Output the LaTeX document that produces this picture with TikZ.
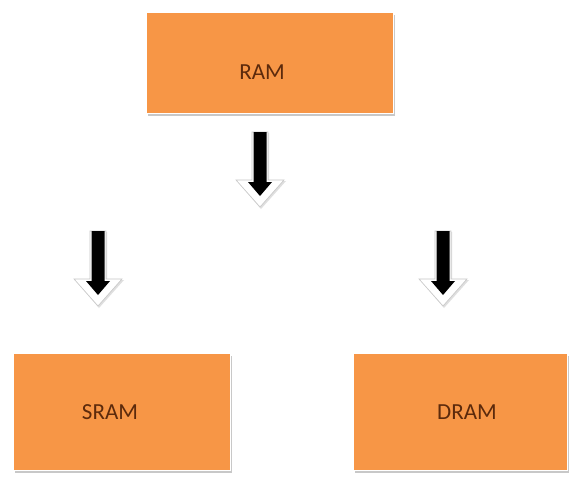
\documentclass[tikz,border=0pt]{standalone}
\usepackage{fontspec}
\setmainfont{Carlito}
\usetikzlibrary{shadows}
\definecolor{boxorange}{HTML}{F79646}
\definecolor{txtbrown}{HTML}{5C2A0C}
\tikzset{
  memblock/.style={fill=boxorange, draw=white, line width=1.2pt, inner sep=0pt,
    anchor=north west, drop shadow={shadow xshift=1.5pt, shadow yshift=-2pt, fill=gray!60, opacity=0.7}},
  lbl/.style={text=txtbrown, font=\fontsize{23}{27}\selectfont},
  blkarrow/.pic={
    \fill[gray!25] (-7,1) -- (9,1) -- (9,49) -- (26,49) -- (1,77) -- (-23,49) -- (-7,49) -- cycle;
    \filldraw[fill=white, draw=gray!45, line width=0.6pt] (-8,0) -- (8,0) -- (8,48) -- (24,48) -- (0,75) -- (-24,48) -- (-8,48) -- cycle;
    \fill[black] (-6.5,0) -- (6.5,0) -- (6.5,50) -- (12,50) -- (0,64) -- (-12,50) -- (-6.5,50) -- cycle;
  }
}
\begin{document}
\begin{tikzpicture}[x=1pt,y=-1pt]
\useasboundingbox (0,0) rectangle (570,477);
\fill[white] (0,0) rectangle (570,477);
\node[memblock, minimum width=247pt, minimum height=101pt] (ram) at (146,12) {};
\node[memblock, minimum width=217pt, minimum height=117pt] (sram) at (13,353) {};
\node[memblock, minimum width=214pt, minimum height=117pt] (dram) at (353,353) {};
\node[lbl] (ramt) at (262,72) {RAM};
\node[lbl] (sramt) at (110,412) {SRAM};
\node[lbl] (dramt) at (467,412) {DRAM};
\pic (a1) at (260,132) {blkarrow};
\pic (a2) at (98,231) {blkarrow};
\pic (a3) at (443,231) {blkarrow};
\end{tikzpicture}
\end{document}
